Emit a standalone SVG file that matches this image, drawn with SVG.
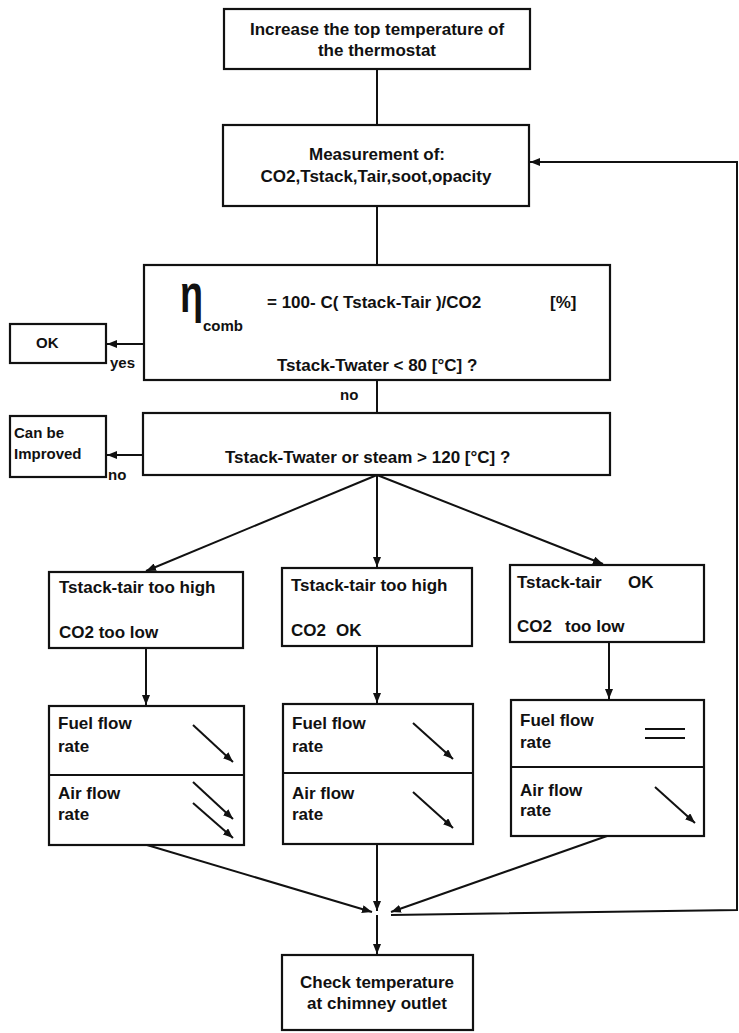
<svg xmlns="http://www.w3.org/2000/svg" width="739" height="1033" viewBox="0 0 739 1033">
<defs>
<marker id="ah" viewBox="0 0 10 8" refX="10" refY="4" markerWidth="10" markerHeight="8" markerUnits="userSpaceOnUse" orient="auto"><path d="M0,0 L10,4 L0,8 z" fill="#111"/></marker>
</defs>
<style>
.box{fill:#fff;stroke:#111;stroke-width:2.2}
.ln{fill:none;stroke:#111;stroke-width:2}
.ar{fill:none;stroke:#111;stroke-width:2;marker-end:url(#ah)}
text{font-family:"Liberation Sans",Arial,sans-serif;font-weight:bold;fill:#111;font-size:17px}
.c{text-anchor:middle}
.s15{font-size:15px}
</style>
<rect width="739" height="1033" fill="#fff"/>

<g id="connectors">
<line class="ln" x1="377" y1="69" x2="377" y2="125"/>
<line class="ln" x1="377" y1="206" x2="377" y2="265"/>
<line class="ar" x1="144" y1="344" x2="107" y2="344"/>
<line class="ln" x1="377" y1="380" x2="377" y2="413"/>
<line class="ar" x1="143" y1="455" x2="107" y2="455"/>
<line class="ar" x1="377" y1="475" x2="146" y2="571"/>
<line class="ar" x1="377" y1="475" x2="377" y2="567"/>
<line class="ar" x1="377" y1="475" x2="603" y2="564"/>
<line class="ar" x1="146" y1="648" x2="146" y2="705"/>
<line class="ar" x1="377" y1="646" x2="377" y2="703"/>
<line class="ar" x1="609" y1="642" x2="609" y2="699"/>
<line class="ar" x1="147" y1="845" x2="372" y2="912"/>
<line class="ar" x1="377" y1="844" x2="377" y2="911"/>
<line class="ar" x1="607" y1="836" x2="391" y2="912"/>
<polyline class="ar" points="391,915 737,910 737,162 530,162"/>
<line class="ar" x1="377" y1="915" x2="377" y2="954"/>
<text class="s15" x="110" y="368">yes</text>
<text class="s15" x="340" y="400">no</text>
<text class="s15" x="108" y="480">no</text>
</g>

<g id="n-increase">
<rect class="box" x="224" y="9" width="306" height="60"/>
<text class="c" x="377" y="35">Increase the top temperature of</text>
<text class="c" x="377" y="56">the  thermostat</text>
</g>

<g id="n-measure">
<rect class="box" x="223" y="125" width="306" height="81"/>
<text class="c" x="377" y="160">Measurement of:</text>
<text class="c" x="376" y="182">CO2,Tstack,Tair,soot,opacity</text>
</g>

<g id="n-formula">
<rect class="box" x="144" y="265" width="466" height="115"/>
<text transform="translate(180,312) scale(0.7,1)" style="font-size:54px">η</text>
<text x="203" y="331" class="s15">comb</text>
<text x="267" y="308">= 100- C( Tstack-Tair )/CO2</text>
<text x="550" y="308">[%]</text>
<text x="277" y="371">Tstack-Twater &lt; 80 [°C] ?</text>
</g>

<g id="n-ok">
<rect class="box" x="10" y="324" width="96" height="39"/>
<text class="s15" x="36" y="348">OK</text>
</g>

<g id="n-steam">
<rect class="box" x="143" y="413" width="467" height="62"/>
<text x="225" y="463">Tstack-Twater or steam &gt; 120 [°C] ?</text>
</g>

<g id="n-improve">
<rect class="box" x="10" y="416" width="96" height="61"/>
<text class="s15" x="14" y="438">Can be</text>
<text class="s15" x="14" y="459">Improved</text>
</g>

<g id="n-case1">
<rect class="box" x="49" y="572" width="194" height="76"/>
<text x="59" y="593">Tstack-tair too high</text>
<text x="59" y="638">CO2 too low</text>
</g>

<g id="n-case2">
<rect class="box" x="282" y="568" width="190" height="78"/>
<text x="291" y="591">Tstack-tair too high</text>
<text x="291" y="636">CO2</text>
<text x="336" y="636">OK</text>
</g>

<g id="n-case3">
<rect class="box" x="510" y="565" width="194" height="77"/>
<text x="517" y="588">Tstack-tair</text>
<text x="628" y="588">OK</text>
<text x="517" y="632">CO2</text>
<text x="565" y="632">too low</text>
</g>

<g id="n-action1">
<rect class="box" x="49" y="706" width="195" height="139"/>
<line class="ln" x1="49" y1="775" x2="244" y2="775"/>
<text x="58" y="729">Fuel flow</text>
<text x="58" y="752">rate</text>
<text x="58" y="799">Air flow</text>
<text x="58" y="820">rate</text>
<line class="ar" x1="193" y1="725" x2="233" y2="762"/>
<line class="ar" x1="193" y1="782" x2="233" y2="819"/>
<line class="ar" x1="193" y1="803" x2="233" y2="838"/>
</g>

<g id="n-action2">
<rect class="box" x="283" y="704" width="190" height="140"/>
<line class="ln" x1="283" y1="773" x2="473" y2="773"/>
<text x="292" y="729">Fuel flow</text>
<text x="292" y="752">rate</text>
<text x="292" y="799">Air flow</text>
<text x="292" y="820">rate</text>
<line class="ar" x1="413" y1="723" x2="453" y2="759"/>
<line class="ar" x1="413" y1="792" x2="453" y2="828"/>
</g>

<g id="n-action3">
<rect class="box" x="511" y="700" width="193" height="136"/>
<line class="ln" x1="511" y1="767" x2="704" y2="767"/>
<text x="520" y="726">Fuel flow</text>
<text x="520" y="748">rate</text>
<text x="520" y="796">Air flow</text>
<text x="520" y="816">rate</text>
<line class="ln" x1="645" y1="729" x2="685" y2="729"/>
<line class="ln" x1="645" y1="738" x2="685" y2="738"/>
<line class="ar" x1="655" y1="787" x2="695" y2="823"/>
</g>

<g id="n-check">
<rect class="box" x="282" y="955" width="191" height="75"/>
<text class="c" x="377" y="988">Check temperature</text>
<text class="c" x="377" y="1009">at chimney outlet</text>
</g>
</svg>
